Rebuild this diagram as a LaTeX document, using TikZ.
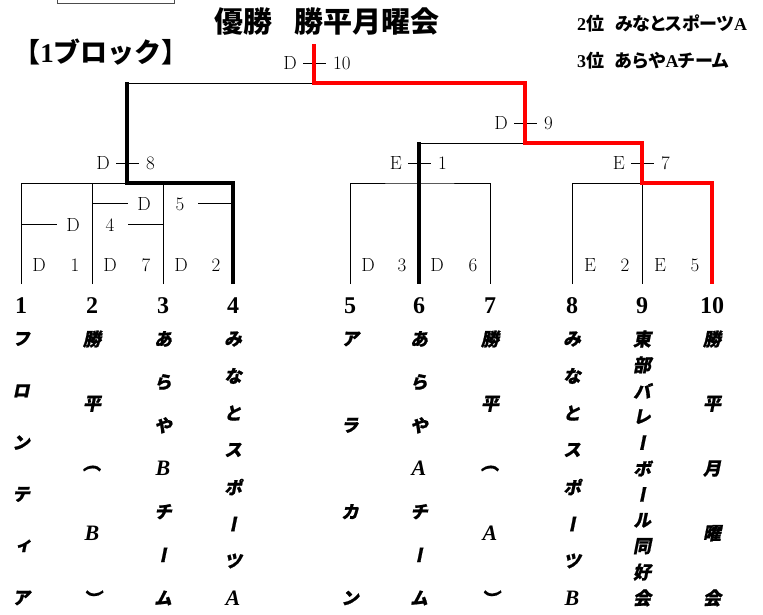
\documentclass[tikz,border=0pt]{standalone}
\usepackage{fontspec}
\newfontfamily\cjk{Noto Sans CJK JP}
\newfontfamily\cjkp{Noto Sans CJK JP}[RawFeature=+palt]
\newfontfamily\cjkv{Noto Sans CJK JP}[FakeSlant=0.2,FakeBold=1,RawFeature=+vert]
\newfontfamily\numfont{Liberation Serif}
\newcommand\lat[1]{{\numfont\bfseries\itshape\fontsize{22}{22}\selectfont #1}}

\tikzset{
  bracket/.style={line width=1pt},
  winpath/.style={line width=4pt},
  champ/.style={line width=4pt, red},
  lbl/.style={inner sep=0pt, font=\fontsize{19}{19}\selectfont\addfontfeature{FakeStretch=0.72}},
  teamnum/.style={inner sep=0pt, font=\numfont\bfseries\fontsize{24}{24}\selectfont},
  namech/.style={inner sep=0pt, font=\cjkv\bfseries\fontsize{18}{18}\selectfont},
  headtext/.style={inner sep=0pt, font=\cjkp\bfseries\fontsize{18}{18}\selectfont},
}

% match label: letter -+- number above a junction
\newcommand\matchlbl[3]{%
  \coordinate (#1-l) at ([yshift=20pt]#1);
  \draw[bracket] ([xshift=-11pt]#1-l) -- ([xshift=12pt]#1-l);
  \node[lbl, anchor=east] (#1-a) at ([xshift=-17pt]#1-l) {#2};
  \node[lbl, anchor=west] (#1-b) at ([xshift=19pt]#1-l) {#3};
}
% team name set downwards, spread from y=339 to y=598
\newcommand\teamname[3]{%
  \foreach \chr [count=\k] in {#3} {
    \pgfmathsetmacro\yy{55+(\k-1)*259/(#2-1)}
    \path (#1) ++(0,\yy) node[namech] (#1n\k) {\chr};
  }}

\begin{document}
\begin{tikzpicture}[x=1pt,y=-1pt]
  \useasboundingbox (0,0) rectangle (763,614);
  \draw[line width=1pt, black!70] (57,-6) rectangle (174,3);

  % headings
  \node[inner sep=0pt, font=\cjk\bfseries\fontsize{29}{29}\selectfont] (title) at (327,22) {優勝\hspace{0.75em}勝平月曜会};
  \node[inner sep=0pt, font=\cjk\bfseries\fontsize{27}{27}\selectfont] (block) at (101,52) {【{\numfont\bfseries 1}ブロック】};
  \node[headtext, anchor=west] (second) at (577,23) {{\numfont\bfseries 2}位\hspace{0.6em}みなとスポーツ{\numfont\bfseries A}};
  \node[headtext, anchor=west] (third) at (577,61) {{\numfont\bfseries 3}位\hspace{0.6em}あらや{\numfont\bfseries A}チーム};

  % bracket points
  \coordinate (t1) at (21,284);
  \coordinate (t2) at (92,284);
  \coordinate (t3) at (163,284);
  \coordinate (t4) at (233,284);
  \coordinate (t5) at (350,284);
  \coordinate (t6) at (419,284);
  \coordinate (t7) at (490,284);
  \coordinate (t8) at (572,284);
  \coordinate (t9) at (642,284);
  \coordinate (t10) at (712,284);
  \coordinate (m8) at (127,183);
  \coordinate (m1) at (419,183);
  \coordinate (m7) at (642,183);
  \coordinate (m9) at (525,143);
  \coordinate (m10) at (314,83);
  \coordinate (top) at (314,44);

  % labels
  \matchlbl{m10}{D}{10}
  \matchlbl{m9}{D}{9}
  \matchlbl{m8}{D}{8}
  \matchlbl{m1}{E}{1}
  \matchlbl{m7}{E}{7}

  % thin lines
  \draw[bracket] (t1) |- (m8) (t2) -- (t2 |- m8) (t3) -- (t3 |- m8);
  \draw[bracket] (m8 |- m10) -- (m10);
  \draw[bracket] (m1 |- m9) -- (m9);
  \draw[bracket] (t5) |- (m1) -| (t7);
  \draw[bracket] (t8) |- (m7) -- (t9);

  % league inside block D
  \draw[bracket] (92,203) -- (128,203) (198,203) -- (233,203);
  \node[lbl] (d5a) at (144,204) {D};
  \node[lbl] (d5b) at (180,204) {5};
  \draw[bracket] (21,224) -- (57,224) (128,224) -- (163,224);
  \node[lbl] (d4a) at (73,225) {D};
  \node[lbl] (d4b) at (110,225) {4};
  \node[lbl] (d1a) at (39,265) {D};
  \node[lbl] (d1b) at (75,265) {1};
  \node[lbl] (d7a) at (110,265) {D};
  \node[lbl] (d7b) at (146,265) {7};
  \node[lbl] (d2a) at (181,265) {D};
  \node[lbl] (d2b) at (216,265) {2};
  \node[lbl] (d3a) at (368,265) {D};
  \node[lbl] (d3b) at (402,265) {3};
  \node[lbl] (d6a) at (437,265) {D};
  \node[lbl] (d6b) at (473,265) {6};
  \node[lbl] (e2a) at (590,265) {E};
  \node[lbl] (e2b) at (625,265) {2};
  \node[lbl] (e5a) at (660,265) {E};
  \node[lbl] (e5b) at (695,265) {5};

  % winners
  \draw[winpath] (t4) |- (m8) -- ([yshift=1pt]m8 |- m10);
  \draw[winpath] ([yshift=1pt]m1 |- m9) -- (t6);
  \draw[champ] (top) -- (m10) -| (m9) -| (m7) -| (t10);

  % teams
  \foreach \t in {1,...,10}
    \path (t\t) ++(0,22) node[teamnum] (num\t) {\t};
  \teamname{t1}{6}{フ,ロ,ン,テ,ィ,ア}
  \teamname{t2}{5}{勝,平,︵,\lat{B},︶}
  \teamname{t3}{7}{あ,ら,や,\lat{B},チ,ー,ム}
  \teamname{t4}{8}{み,な,と,ス,ポ,ー,ツ,\lat{A}}
  \teamname{t5}{4}{ア,ラ,カ,ン}
  \teamname{t6}{7}{あ,ら,や,\lat{A},チ,ー,ム}
  \teamname{t7}{5}{勝,平,︵,\lat{A},︶}
  \teamname{t8}{8}{み,な,と,ス,ポ,ー,ツ,\lat{B}}
  \teamname{t9}{11}{東,部,バ,レ,ー,ボ,ー,ル,同,好,会}
  \teamname{t10}{5}{勝,平,月,曜,会}
\end{tikzpicture}
\end{document}
